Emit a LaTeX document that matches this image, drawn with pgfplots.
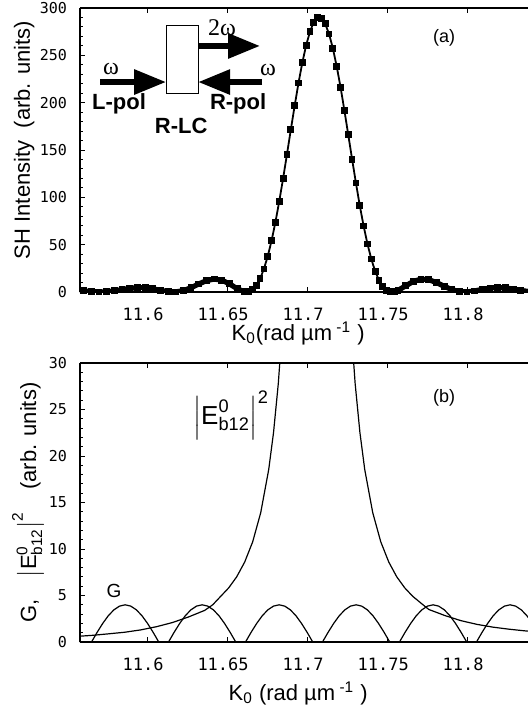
\documentclass[border=0pt]{standalone}
\usepackage{amsmath}
\usepackage{fontspec}
\setmainfont{Liberation Sans}
\setmonofont{DejaVu Sans Mono}
\newfontfamily\omfont{Liberation Serif}
\usepackage{pgfplots}
\usepackage{pgfplotstable}
\pgfplotsset{compat=1.18}
\usetikzlibrary{arrows.meta}

% SH intensity, panel (a)
\pgfplotstableread{
k I
11.5557 2.0
11.5605 1.24
11.5653 0.45
11.5700 0.01
11.5748 0.24
11.5796 1.17
11.5844 2.57
11.5892 3.93
11.5940 4.72
11.5988 4.55
11.6036 3.42
11.6084 1.76
11.6132 0.36
11.6179 0.07
11.6227 1.47
11.6275 4.52
11.6323 8.47
11.6371 12.0
11.6419 13.7
11.6467 12.5
11.6515 8.57
11.6563 3.46
11.6610 0.12
11.6634 0.31
11.6658 2.40
11.6682 6.85
11.6706 14.06
11.6730 24.3
11.6754 37.8
11.6778 54.3
11.6802 73.8
11.6826 95.9
11.6850 120.0
11.6874 145.4
11.6898 171.3
11.6922 196.6
11.6946 220.7
11.6970 242.3
11.6994 260.7
11.7018 275.1
11.7041 284.9
11.7065 289.6
11.7089 289.0
11.7113 283.3
11.7137 272.6
11.7161 257.3
11.7185 238.2
11.7209 216.2
11.7233 191.7
11.7257 166.1
11.7281 140.3
11.7305 115.1
11.7329 91.3
11.7353 69.7
11.7377 50.8
11.7401 34.8
11.7425 22.0
11.7449 12.4
11.7473 5.75
11.7496 1.80
11.7520 0.13
11.7544 0.27
11.7568 1.71
11.7616 6.53
11.7664 11.2
11.7712 13.6
11.7760 13.0
11.7808 10.0
11.7856 6.06
11.7904 2.52
11.7952 0.42
11.7999 0.07
11.8047 1.12
11.8095 2.78
11.8143 4.20
11.8191 4.78
11.8239 4.34
11.8287 3.15
11.8335 1.70
11.8383 0.53
}\shdata

\tikzset{arr/.style={line width=3pt, -{Triangle[length=16pt,width=12pt]}}}
\pgfplotsset{
  panel/.style={
    scale only axis, width=224pt,
    at={(0,0)}, anchor=south west,
    xmin=11.5581, xmax=11.838,
    axis x line*=box, axis y line*=left,
    axis line style={line width=0.7pt},
    xtick={11.6,11.65,11.7,11.75,11.8},
    xticklabels={11.6,11.65,11.7,11.75,11.8},
    major tick length=2.5pt, minor tick length=1.3pt,
    minor y tick num=4,
    tick style={black, line width=0.5pt},
    /pgf/number format/assume math mode=true,
    xticklabel style={font=\ttfamily\fontsize{8.5}{10}\selectfont, yshift=-4.5pt, xshift=-2pt},
    yticklabel style={font=\ttfamily\fontsize{7.5}{9}\selectfont, xshift=-3pt},
  },
}

\begin{document}
\begin{tikzpicture}
\useasboundingbox (-40pt,-210.5pt) rectangle (224pt,146pt);

% (a) measured SH intensity
\begin{axis}[panel, height=142pt,
    ymin=0, ymax=300, ytick={0,50,...,300},
    xlabel={K$_{\text{0}}$(rad µm$^{\text{ -1}}$ )},
    xlabel style={at={(axis description cs:0.487,-0.169)}, anchor=base, font=\fontsize{11}{13}\selectfont},
    ylabel={SH Intensity\ \ (arb. units)},
    ylabel style={at={(axis description cs:-0.1116,0.535)}, anchor=base, font=\fontsize{11}{13}\selectfont},
]
\addplot[black, line width=2.6pt, restrict x to domain=11.55:11.664] table[x=k, y=I] {\shdata};
\addplot[black, line width=2.6pt, restrict x to domain=11.751:11.85] table[x=k, y=I] {\shdata};
\addplot[black, line width=0.9pt, mark=square*, mark size=1.25pt] table[x=k, y=I] {\shdata};
% inset: sample and beams
\draw[line width=0.5pt] (axis cs:11.6119,209.2) rectangle (axis cs:11.6319,281);
\draw[arr] (axis cs:11.6319,259.9) -- (axis cs:11.6706,259.9);
\draw[arr] (axis cs:11.5706,221.8) -- (axis cs:11.6119,221.8);
\draw[arr] (axis cs:11.6719,221.8) -- (axis cs:11.6319,221.8);
\node[font=\omfont\fontsize{12}{14}\selectfont] at (axis cs:11.6469,279) {2ω};
\node[font=\omfont\fontsize{12}{14}\selectfont] at (axis cs:11.5775,235.6) {ω};
\node[font=\omfont\fontsize{12}{14}\selectfont] at (axis cs:11.6756,234.5) {ω};
\node[font=\bfseries\fontsize{11}{13}\selectfont] at (axis cs:11.5825,198.6) {L-pol};
\node[font=\bfseries\fontsize{11}{13}\selectfont] at (axis cs:11.6569,198.6) {R-pol};
\node[font=\bfseries\fontsize{11}{13}\selectfont] at (axis cs:11.6213,175.3) {R-LC};
\node[font=\fontsize{9}{11}\selectfont] at (axis cs:11.7856,268.3) {(a)};
\end{axis}

% (b) G and |E|^2
\begin{axis}[panel, at={(0,-175pt)}, height=139.5pt,
    ymin=0, ymax=30, ytick={0,5,...,30},
    xlabel={K$_{\text{0}}$ (rad µm$^{\text{ -1}}$ )},
    xlabel style={at={(axis description cs:0.487,-0.208)}, anchor=base, font=\fontsize{11}{13}\selectfont},
    ylabel={G,\quad{\fontsize{11}{13}\selectfont$\left|\text{E}^{\text{0}}_{\text{b12}}\right|^{\text{2}}$}\quad(arb. units)},
    ylabel style={at={(axis description cs:-0.098,0.5)}, anchor=base, font=\fontsize{11}{13}\selectfont},
]
\addplot[black, line width=0.6pt] coordinates {
 (11.556,0.6) (11.566,0.72) (11.576,0.88) (11.586,1.05) (11.596,1.3) (11.606,1.65)
 (11.616,2.1) (11.626,2.7) (11.636,3.4) (11.641,4.0) (11.646,4.91) (11.651,5.82)
 (11.656,7.01) (11.661,8.60) (11.666,10.78) (11.671,13.90) (11.676,18.54) (11.679,22.5)
 (11.682,27.8) (11.685,35.1) (11.688,45.4)
 (11.724,45.4) (11.727,35.1) (11.730,27.8) (11.733,22.5) (11.736,18.54) (11.741,13.90)
 (11.746,10.78) (11.751,8.60) (11.756,7.01) (11.761,5.82) (11.766,4.91) (11.771,4.20)
 (11.776,3.5) (11.786,2.85) (11.796,2.3) (11.806,1.9) (11.816,1.6) (11.826,1.38)
 (11.836,1.2) (11.846,1.05)
};
\addplot[black, line width=0.6pt] coordinates {
 (11.555,0) (11.5653,0) (11.5688,1.04) (11.5723,2.0) (11.5758,2.83) (11.5793,3.46) (11.5828,3.86)
 (11.5863,4) (11.5898,3.86) (11.5933,3.46) (11.5968,2.83) (11.6003,2.0) (11.6038,1.04) (11.6073,0)
 (11.6134,0) (11.6169,1.04) (11.6204,2.0) (11.6239,2.83) (11.6274,3.46) (11.6309,3.86)
 (11.6344,4) (11.6379,3.86) (11.6414,3.46) (11.6449,2.83) (11.6484,2.0) (11.6519,1.04) (11.6554,0)
 (11.6615,0) (11.6650,1.04) (11.6685,2.0) (11.6720,2.83) (11.6755,3.46) (11.6790,3.86)
 (11.6825,4) (11.6860,3.86) (11.6895,3.46) (11.6930,2.83) (11.6965,2.0) (11.7000,1.04) (11.7035,0)
 (11.7096,0) (11.7131,1.04) (11.7166,2.0) (11.7201,2.83) (11.7236,3.46) (11.7271,3.86)
 (11.7306,4) (11.7341,3.86) (11.7376,3.46) (11.7411,2.83) (11.7446,2.0) (11.7481,1.04) (11.7516,0)
 (11.7577,0) (11.7612,1.04) (11.7647,2.0) (11.7682,2.83) (11.7717,3.46) (11.7752,3.86)
 (11.7787,4) (11.7822,3.86) (11.7857,3.46) (11.7892,2.83) (11.7927,2.0) (11.7962,1.04) (11.7997,0)
 (11.8058,0) (11.8093,1.04) (11.8128,2.0) (11.8163,2.83) (11.8198,3.46) (11.8233,3.86)
 (11.8268,4) (11.8303,3.86) (11.8338,3.46) (11.8373,2.83) (11.8408,2.0)
};
\node[font=\fontsize{13}{15}\selectfont] at (axis cs:11.6525,24.4) {$\left|\text{E}^{\text{0}}_{\text{b12}}\right|^{\text{2}}$};
\node[font=\fontsize{9.5}{11}\selectfont] at (axis cs:11.5794,5.5) {G};
\node[font=\fontsize{9}{11}\selectfont] at (axis cs:11.7856,26.3) {(b)};
\end{axis}
\end{tikzpicture}
\end{document}
